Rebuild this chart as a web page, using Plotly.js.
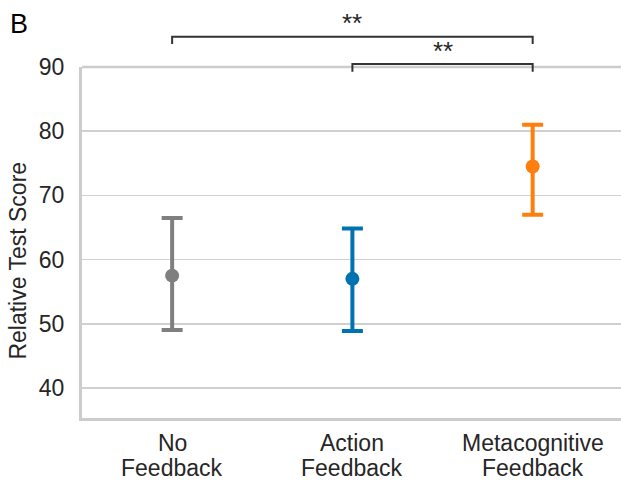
<!DOCTYPE html>
<html>
<head>
<meta charset="utf-8">
<script src="https://cdn.plot.ly/plotly-3.0.1.min.js"></script>
<style>html,body{margin:0;padding:0;background:#fff;}#chart{width:621px;height:485px;}</style>
</head>
<body>
<div id="chart"></div>
<script>
// Data
const categories = ["No<br>Feedback", "Action<br>Feedback", "Metacognitive<br>Feedback"];
const means = [57.5, 57.0, 74.5];
const upper = [66.5, 64.85, 81.0];
const lower = [49.05, 48.9, 67.0];
const colors = ["#7f7f7f", "#0072b2", "#ff7f0e"];
const yTicks = [40, 50, 60, 70, 80, 90];
// significance brackets: [from index, to index, label]
const brackets = [[0, 2, "**"], [1, 2, "**"]];

const FONT = "Liberation Sans, Arial, Helvetica, sans-serif";
const TXT = "#262626";

const traces = categories.map((c, i) => ({
  type: "scatter",
  mode: "markers",
  x: [i],
  y: [means[i]],
  marker: {color: colors[i], size: 14},
  error_y: {
    type: "data", symmetric: false,
    array: [upper[i] - means[i]],
    arrayminus: [means[i] - lower[i]],
    color: colors[i], thickness: 4, width: 10.5
  },
  showlegend: false,
  cliponaxis: false,
  hoverinfo: "skip"
}));

// bracket geometry in paper units
const bracketY = [1.0863, 1.0085];
const tickDrop = [0.021, 0.022];
const starY = [1.125, 1.0456];
const shapes = [];
const annotations = [];
brackets.forEach((b, k) => {
  const y0 = bracketY[k], y1 = bracketY[k] - tickDrop[k];
  shapes.push({type: "path", xref: "x", yref: "paper",
    path: `M ${b[0]},${y1} L ${b[0]},${y0} L ${b[1]},${y0} L ${b[1]},${y1}`,
    line: {color: "#333333", width: 2}});
  annotations.push({xref: "x", yref: "paper", x: (b[0] + b[1]) / 2, y: starY[k],
    text: b[2], showarrow: false, xanchor: "center", yanchor: "middle",
    font: {family: FONT, size: 26, color: TXT}});
});
// top border line at 90
shapes.push({type: "line", xref: "paper", yref: "paper", x0: 0, x1: 1, y0: 1, y1: 1,
  line: {color: "#cccccc", width: 2.5}, layer: "below"});

// x category labels, one annotation per line for tight line spacing
const lineY = [-0.0712, -0.1425];
categories.forEach((c, i) => {
  c.split("<br>").forEach((part, j) => {
    annotations.push({xref: "x", yref: "paper", x: i, y: lineY[j], text: part,
      showarrow: false, xanchor: "center", yanchor: "middle",
      font: {family: FONT, size: 23, color: TXT}});
  });
});

annotations.push({xref: "paper", yref: "paper", x: -0.119, y: 0.448,
  text: "Relative Test Score", textangle: -90, showarrow: false,
  xanchor: "center", yanchor: "middle", font: {family: FONT, size: 23, color: TXT}});
annotations.push({xref: "paper", yref: "paper", x: -0.116, y: 1.1216,
  text: "B", showarrow: false, xanchor: "center", yanchor: "middle",
  font: {family: FONT, size: 27, color: "#000"}});

const layout = {
  width: 621, height: 485,
  margin: {l: 82, r: 0, t: 67, b: 67, pad: 0},
  paper_bgcolor: "#fff", plot_bgcolor: "#fff",
  font: {family: FONT, size: 23, color: TXT},
  xaxis: {
    range: [-0.5, 2.49], tickvals: [0, 1, 2], showticklabels: false,
    showgrid: false, zeroline: false, showline: true, linecolor: "#cccccc", linewidth: 3,
    ticks: "", fixedrange: true
  },
  yaxis: {
    range: [35.33, 90], tickvals: yTicks, ticktext: yTicks.map(String),
    showgrid: true, gridcolor: "#d0d0d0", gridwidth: 1.5, zeroline: false,
    showline: true, linecolor: "#cccccc", linewidth: 3,
    ticks: "", ticklabelstandoff: 10, tickfont: {family: FONT, size: 23, color: TXT},
    fixedrange: true
  },
  shapes: shapes,
  annotations: annotations
};

Plotly.newPlot("chart", traces, layout, {displayModeBar: false, staticPlot: true});
</script>
</body>
</html>
